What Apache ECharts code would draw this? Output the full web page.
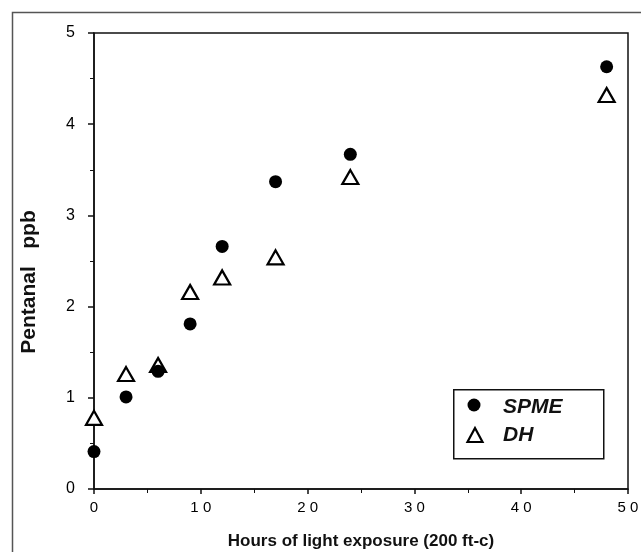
<!DOCTYPE html>
<html>
<head>
<meta charset="utf-8">
<script src="https://cdn.jsdelivr.net/npm/echarts@6/dist/echarts.min.js"></script>
<style>
  html, body { margin: 0; padding: 0; background: #fff; }
  #chart { width: 641px; height: 552px; }
</style>
</head>
<body>
<div id="chart"></div>
<script>
// hours of light exposure
var hours = [0, 3, 6, 9, 12, 17, 24, 48];
// pentanal ppb
var spmeValues = [0.41, 1.01, 1.29, 1.81, 2.66, 3.37, 3.67, 4.63];
var dhValues = [0.78, 1.26, 1.36, 2.16, 2.32, 2.54, 3.42, 4.32];

function pairs(xs, ys) {
    var out = [];
    for (var i = 0; i < xs.length; i++) {
        out.push([xs[i], ys[i]]);
    }
    return out;
}

var chart = echarts.init(document.getElementById('chart'));
var font = 'Liberation Sans, Arial, Helvetica, sans-serif';

var option = {
    animation: false,
    backgroundColor: '#fff',
    grid: {
        left: 94,
        right: 13,
        top: 33,
        bottom: 63,
        outerBoundsMode: 'none',
        containLabel: false,
        show: true,
        borderColor: '#111',
        borderWidth: 1.5
    },
    xAxis: {
        type: 'value',
        min: 0,
        max: 50,
        interval: 10,
        name: 'Hours of light exposure (200 ft-c)',
        nameLocation: 'middle',
        nameGap: 44,
        nameTextStyle: { fontFamily: font, fontSize: 17, fontWeight: 'bold', color: '#111' },
        axisLine: { lineStyle: { color: '#111', width: 1.5 } },
        axisTick: { show: true, length: 5, lineStyle: { color: '#111', width: 1.5 } },
        minorTick: { show: true, splitNumber: 2, length: 4, lineStyle: { color: '#111' } },
        axisLabel: {
            fontFamily: font, fontSize: 15, color: '#000', margin: 11,
            formatter: function (v) { return String(v).split('').join(' '); }
        },
        splitLine: { show: false }
    },
    yAxis: {
        type: 'value',
        min: 0,
        max: 5,
        interval: 1,
        axisLine: { lineStyle: { color: '#111', width: 1.5 } },
        axisTick: { show: true, length: 6, lineStyle: { color: '#111', width: 1.5 } },
        minorTick: { show: true, splitNumber: 2, length: 4, lineStyle: { color: '#111' } },
        axisLabel: { fontFamily: font, fontSize: 16, color: '#000', margin: 19 },
        splitLine: { show: false }
    },
    legend: { show: false },
    series: [
        {
            name: 'DH',
            type: 'scatter',
            symbol: 'triangle',
            symbolSize: [16, 14],
            itemStyle: { color: '#fff', borderColor: '#000', borderWidth: 2.2, opacity: 1 },
            data: pairs(hours, dhValues),
            z: 2
        },
        {
            name: 'SPME',
            type: 'scatter',
            symbol: 'circle',
            symbolSize: 13,
            itemStyle: { color: '#000', opacity: 1 },
            data: pairs(hours, spmeValues),
            z: 3
        }
    ],
    graphic: [
        // outer frame of the figure
        {
            type: 'rect',
            left: 10, top: 10,
            shape: { width: 700, height: 700 },
            style: { fill: 'none', stroke: '#555', lineWidth: 1.5 },
            silent: true
        },
        // y axis title
        {
            type: 'text',
            x: 29, y: 282,
            rotation: Math.PI / 2,
            style: {
                text: 'Pentanal   ppb',
                font: 'bold 21px ' + font,
                fill: '#111',
                align: 'center',
                verticalAlign: 'middle'
            }
        },
        // legend box
        {
            type: 'rect',
            left: 453, top: 389,
            shape: { width: 150, height: 69 },
            style: { fill: '#fff', stroke: '#111', lineWidth: 1.5 },
            z: 10
        },
        {
            type: 'circle',
            x: 474, y: 405,
            shape: { cx: 0, cy: 0, r: 6.5 },
            style: { fill: '#000' },
            z: 11
        },
        {
            type: 'polygon',
            shape: { points: [[475, 428], [467.5, 442], [482.5, 442]] },
            style: { fill: '#fff', stroke: '#000', lineWidth: 2.2 },
            z: 11
        },
        {
            type: 'text',
            x: 503, y: 407,
            style: { text: 'SPME', font: 'italic bold 21px ' + font, fill: '#111', verticalAlign: 'middle' },
            z: 11
        },
        {
            type: 'text',
            x: 503, y: 435,
            style: { text: 'DH', font: 'italic bold 21px ' + font, fill: '#111', verticalAlign: 'middle' },
            z: 11
        }
    ]
};

chart.setOption(option);
</script>
</body>
</html>
